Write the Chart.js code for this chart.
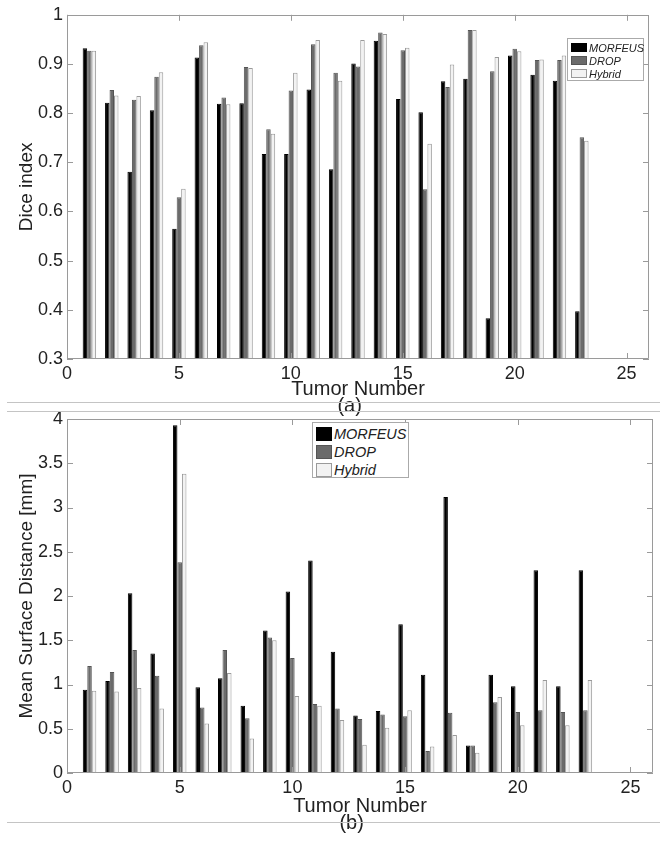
<!DOCTYPE html>
<html>
<head>
<meta charset="utf-8">
<script src="https://cdn.jsdelivr.net/npm/chart.js@4.4.0/dist/chart.umd.min.js"></script>
<style>
  body { margin: 0; background: #fff; width: 663px; height: 841px; position: relative; overflow: hidden; font-family: "Liberation Sans", Arial, sans-serif; }
  canvas { position: absolute; left: 0; }
  .sep { position: absolute; left: 7px; width: 653px; height: 0; border-top: 1px solid #c4c4c4; }
  .legend { position: absolute; background: #fff; border: 1px solid #aaa; box-sizing: border-box; color: #222; font-style: italic; }
  .legend .row { display: flex; align-items: center; }
  .legend .sw { box-sizing: border-box; flex: none; }
</style>
</head>
<body>
<canvas id="chart" width="663" height="418" style="top:0"></canvas>
<canvas id="chart2" width="663" height="441" style="top:400px"></canvas>
<div class="sep" style="top:402px"></div>
<div class="sep" style="top:411px"></div>
<div class="sep" style="top:822px"></div>
<div class="legend" id="legend1" style="left:567px;top:38px;width:77px;height:43px;padding:2px 0 0 3px;font-size:11px"></div>
<div class="legend" id="legend2" style="left:312px;top:422px;width:97px;height:56px;padding:2px 0 0 3px;font-size:14.5px"></div>
<script>
  const tumors = [1, 2, 3, 4, 5, 6, 7, 8, 9, 10, 11, 12, 13, 14, 15, 16, 17, 18, 19, 20, 21, 22, 23];
  const methods = ["MORFEUS", "DROP", "Hybrid"];

  // (a) Dice index
  const diceMorfeus = [0.932, 0.821, 0.681, 0.806, 0.565, 0.913, 0.819, 0.820, 0.717, 0.717, 0.848, 0.686, 0.901, 0.947, 0.829, 0.802, 0.865, 0.870, 0.383, 0.917, 0.878, 0.866, 0.397];
  const diceDrop    = [0.927, 0.847, 0.827, 0.874, 0.629, 0.938, 0.832, 0.894, 0.767, 0.846, 0.940, 0.882, 0.895, 0.964, 0.928, 0.645, 0.853, 0.969, 0.885, 0.931, 0.908, 0.908, 0.751];
  const diceHybrid  = [0.927, 0.836, 0.835, 0.883, 0.646, 0.944, 0.818, 0.892, 0.758, 0.882, 0.949, 0.866, 0.949, 0.961, 0.933, 0.738, 0.899, 0.969, 0.914, 0.926, 0.909, 0.917, 0.744];

  // (b) Mean surface distance [mm]
  const msdMorfeus = [0.94, 1.04, 2.03, 1.35, 3.93, 0.97, 1.07, 0.76, 1.61, 2.05, 2.40, 1.37, 0.65, 0.70, 1.68, 1.11, 3.12, 0.31, 1.11, 0.98, 2.29, 0.98, 2.29];
  const msdDrop    = [1.21, 1.14, 1.39, 1.10, 2.38, 0.74, 1.39, 0.62, 1.53, 1.30, 0.78, 0.73, 0.61, 0.66, 0.64, 0.25, 0.68, 0.31, 0.80, 0.69, 0.71, 0.69, 0.71];
  const msdHybrid  = [0.93, 0.92, 0.96, 0.73, 3.38, 0.56, 1.13, 0.39, 1.50, 0.87, 0.76, 0.60, 0.32, 0.51, 0.71, 0.30, 0.43, 0.23, 0.86, 0.54, 1.05, 0.54, 1.05];

  const xTicks = [0, 5, 10, 15, 20, 25];
  const diceTicks = [0.3, 0.4, 0.5, 0.6, 0.7, 0.8, 0.9, 1];
  const msdTicks = [0, 0.5, 1, 1.5, 2, 2.5, 3, 3.5, 4];

  const fills = ["#000000", "#6b6b6b", "#f2f2f2"];
  const edges = ["#000000", "#555555", "#9a9a9a"];
  const FONT = '"Liberation Sans", Arial, sans-serif';
  const INK = "#222";

  function makeSets(series) {
    return series.map((vals, i) => ({
      label: methods[i],
      data: vals.map((v, j) => ({ x: tumors[j], y: v })),
      backgroundColor: fills[i],
      borderColor: edges[i],
      borderWidth: 1,
      categoryPercentage: 0.6,
      barPercentage: 1.0
    }));
  }

  // box round the axes with inward tick marks, like matlab
  const frame = {
    id: "frame",
    afterDraw(chart) {
      const { ctx, chartArea: a, scales: { x, y } } = chart;
      ctx.save();
      ctx.strokeStyle = "#9a9a9a";
      ctx.lineWidth = 1;
      ctx.beginPath();
      ctx.rect(Math.round(a.left) + 0.5, Math.round(a.top) + 0.5, Math.round(a.right - a.left) - 1, Math.round(a.bottom - a.top) - 1);
      x.ticks.forEach(t => {
        const px = Math.round(x.getPixelForValue(t.value)) + 0.5;
        ctx.moveTo(px, a.bottom); ctx.lineTo(px, a.bottom - 6);
        ctx.moveTo(px, a.top); ctx.lineTo(px, a.top + 6);
      });
      y.ticks.forEach(t => {
        const py = Math.round(y.getPixelForValue(t.value)) + 0.5;
        ctx.moveTo(a.left, py); ctx.lineTo(a.left + 6, py);
        ctx.moveTo(a.right, py); ctx.lineTo(a.right - 6, py);
      });
      ctx.stroke();
      ctx.restore();
    }
  };

  function makeChart(id, series, yOpts) {
    return new Chart(document.getElementById(id).getContext("2d"), {
      type: "bar",
      data: { datasets: makeSets(series) },
      plugins: [frame],
      options: {
        responsive: false,
        animation: false,
        events: [],
        layout: { padding: yOpts.padding },
        plugins: { legend: { display: false }, tooltip: { enabled: false } },
        scales: {
          x: {
            type: "linear",
            min: 0,
            max: 26,
            offset: false,
            grid: { display: false, drawTicks: false, offset: false },
            border: { display: false },
            afterBuildTicks: s => { s.ticks = xTicks.map(v => ({ value: v })); },
            afterFit: s => { s.height = yOpts.xHeight; },
            ticks: { padding: 4, color: INK, font: { family: FONT, size: 18 }, maxRotation: 0, autoSkip: false },
            title: {
              display: true,
              text: ["Tumor Number", yOpts.tag],
              color: INK,
              font: { family: FONT, size: 20, lineHeight: 0.85 },
              padding: { top: 0, bottom: yOpts.titleGap }
            }
          },
          y: {
            min: yOpts.ticks[0],
            max: yOpts.ticks[yOpts.ticks.length - 1],
            grid: { display: false, drawTicks: false },
            border: { display: false },
            afterBuildTicks: s => { s.ticks = yOpts.ticks.map(v => ({ value: v })); },
            afterFit: s => { s.width = 67; },
            ticks: { padding: 4, color: INK, font: { family: FONT, size: 18 }, callback: v => String(+v.toFixed(2)) },
            title: {
              display: true,
              text: yOpts.title,
              color: INK,
              font: { family: FONT, size: 19, lineHeight: 1 },
              padding: { top: 17, bottom: 0 }
            }
          }
        }
      }
    });
  }

  makeChart("chart", [diceMorfeus, diceDrop, diceHybrid], {
    ticks: diceTicks, title: "Dice index", tag: "(a)   ",
    padding: { top: 14, right: 14, bottom: 0, left: 0 }, xHeight: 59, titleGap: 3.5
  });
  makeChart("chart2", [msdMorfeus, msdDrop, msdHybrid], {
    ticks: msdTicks, title: "Mean Surface Distance [mm]", tag: "(b)   ",
    padding: { top: 19, right: 10, bottom: 0, left: 0 }, xHeight: 68, titleGap: 9.5
  });

  // legends sit inside the axes, so they are plain html boxes
  function makeLegend(id, sw, rowH) {
    const box = document.getElementById(id);
    methods.forEach((m, i) => {
      const row = document.createElement("div");
      row.className = "row";
      row.style.height = rowH + "px";
      const s = document.createElement("span");
      s.className = "sw";
      s.style.cssText = `width:${sw[0]}px;height:${sw[1]}px;background:${fills[i]};border:1px solid ${edges[i]};margin-right:2px`;
      row.appendChild(s);
      row.appendChild(document.createTextNode(m));
      box.appendChild(row);
    });
  }
  makeLegend("legend1", [16, 9], 13);
  makeLegend("legend2", [16, 14], 18);
</script>
</body>
</html>
